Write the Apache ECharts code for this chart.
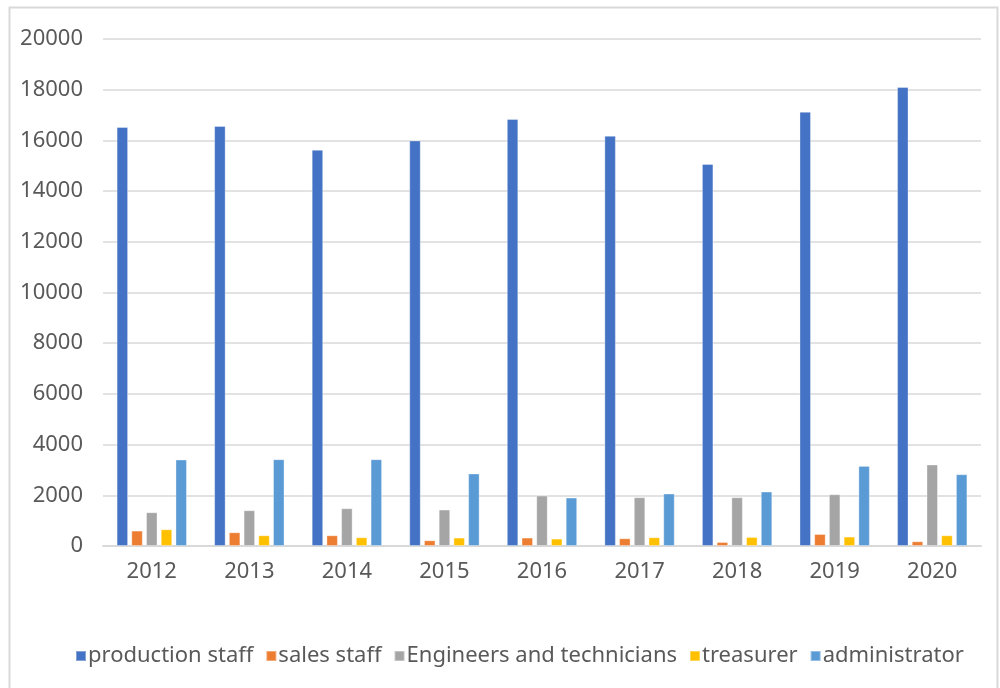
<!DOCTYPE html>
<html>
<head>
<meta charset="utf-8">
<script src="https://cdn.jsdelivr.net/npm/echarts@6/dist/echarts.min.js"></script>
<style>
  html, body { margin: 0; padding: 0; background: #fff; }
  #main { width: 1000px; height: 688px; }
</style>
</head>
<body>
<div id="main"></div>
<script>
// 年份
var years = ['2012', '2013', '2014', '2015', '2016', '2017', '2018', '2019', '2020'];
// 各类人员数量
var productionStaff = [16530, 16570, 15630, 16000, 16845, 16185, 15070, 17130, 18105];
var salesStaff = [608, 541, 423, 225, 332, 304, 158, 474, 186];
var engineers = [1331, 1410, 1489, 1438, 1991, 1924, 1924, 2042, 3215];
var treasurer = [660, 423, 344, 332, 292, 344, 356, 371, 423];
var administrator = [3413, 3425, 3425, 2860, 1912, 2070, 2149, 3160, 2832];

var names = ['production staff', 'sales staff', 'Engineers and technicians', 'treasurer', 'administrator'];
var colors = ['#4472C4', '#ED7D31', '#A5A5A5', '#FFC000', '#5B9BD5'];
var values = [productionStaff, salesStaff, engineers, treasurer, administrator];

var myChart = echarts.init(document.getElementById('main'));
var textFont = '"Noto Sans", sans-serif';

var series = names.map(function (name, i) {
  return {
    name: name,
    type: 'bar',
    data: values[i],
    barWidth: 11.5,
    barGap: '28%',
    itemStyle: {
      color: colors[i],
      borderColor: 'rgba(255,255,255,0.35)',
      borderWidth: 1
    }
  };
});

myChart.setOption({
  animation: false,
  color: colors,
  graphic: [{
    type: 'rect',
    left: 7,
    top: 5,
    shape: { width: 988, height: 690 },
    style: { fill: 'none', stroke: '#d9d9d9', lineWidth: 2 },
    silent: true
  }],
  grid: {
    left: 103,
    right: 19,
    top: 39,
    bottom: 142,
    containLabel: false
  },
  legend: {
    bottom: 16,
    left: 70,
    itemWidth: 10,
    itemHeight: 10,
    itemGap: 12,
    icon: 'rect',
    textStyle: { fontSize: 22, color: '#595959', fontFamily: textFont, padding: [0, 0, 0, -3] },
    data: names
  },
  xAxis: {
    type: 'category',
    data: years,
    axisLine: { lineStyle: { color: '#d9d9d9', width: 2 } },
    axisTick: { show: false },
    axisLabel: { fontSize: 22, color: '#595959', fontFamily: textFont, margin: 15 }
  },
  yAxis: {
    type: 'value',
    min: 0,
    max: 20000,
    interval: 2000,
    axisLine: { show: false },
    axisTick: { show: false },
    axisLabel: {
      fontSize: 22, color: '#595959', fontFamily: textFont, margin: 20,
      formatter: function (v) { return String(v); }
    },
    splitLine: { lineStyle: { color: '#d9d9d9', width: 1.5 } }
  },
  series: series
});
</script>
</body>
</html>
